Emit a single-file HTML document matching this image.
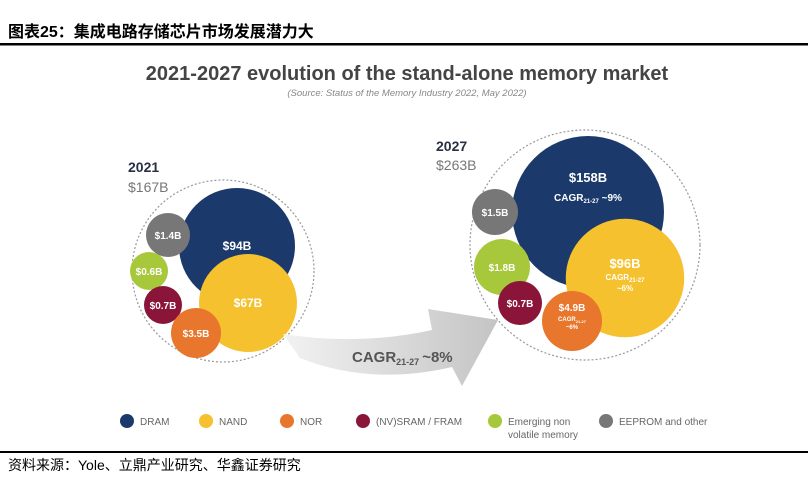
<!DOCTYPE html>
<html><head><meta charset="utf-8">
<style>
html,body{margin:0;padding:0;background:#fff;width:808px;height:490px;overflow:hidden;font-family:"Liberation Sans","Noto Sans CJK SC",sans-serif}
svg{display:block}
</style></head><body>
<svg id="chart" width="808" height="490" viewBox="0 0 808 490" xmlns="http://www.w3.org/2000/svg">
<defs>
<linearGradient id="ag" x1="0" x2="1" y1="0" y2="0"><stop offset="0" stop-color="#f2f2f2"/><stop offset="1" stop-color="#c4c4c4"/></linearGradient>
</defs>
<text x="8" y="37" font-size="16" font-weight="bold" fill="#000" font-family="'Liberation Sans','Noto Sans CJK SC',sans-serif">图表25：集成电路存储芯片市场发展潜力大</text>
<rect x="0" y="43" width="808" height="2.5" fill="#000"/>
<text x="407" y="80" text-anchor="middle" font-size="20" font-weight="bold" fill="#444">2021-2027 evolution of the stand-alone memory market</text>
<text x="407" y="96" text-anchor="middle" font-size="9.5" font-style="italic" fill="#888">(Source: Status of the Memory Industry 2022, May 2022)</text>
<g id="bubbles"></g>
<path d="M283,334 Q360,346 432,330 L428,309 L498,320 L462,386 L452,367 Q370,386 300,358 Z" fill="url(#ag)"/>
<text x="352" y="362" font-size="15" font-weight="bold" fill="#555">CAGR<tspan font-size="9" dy="3">21-27</tspan><tspan dy="-3" dx="3">~8%</tspan></text>
<g id="legend"></g>
<rect x="0" y="451" width="808" height="2" fill="#000"/>
<text x="8" y="470" font-size="14" fill="#000" font-family="'Liberation Sans','Noto Sans CJK SC',sans-serif">资料来源：Yole、立鼎产业研究、华鑫证券研究</text>
</svg>
<script>
const categories = ["DRAM","NAND","NOR","(NV)SRAM / FRAM","Emerging non volatile memory","EEPROM and other"];
const colors = ["#1b3a6b","#f5c12e","#e8762d","#8a1538","#a8c83c","#777777"];
const values2021 = [94,67,3.5,0.7,0.6,1.4];
const values2027 = [158,96,4.9,0.7,1.8,1.5];
const labels2021 = ["$94B","$67B","$3.5B","$0.7B","$0.6B","$1.4B"];
const labels2027 = ["$158B","$96B","$4.9B","$0.7B","$1.8B","$1.5B"];
const cagr2027 = ["~9%","~6%","~6%","","",""];
const totals = [167,263];
const totalLabels = ["$167B","$263B"];
const years = ["2021","2027"];

const NS="http://www.w3.org/2000/svg";
function mk(tag,attrs,parent){const e=document.createElementNS(NS,tag);for(const k in attrs)e.setAttribute(k,attrs[k]);parent.appendChild(e);return e;}
const groups=[
 {cx:223,cy:271,R:91,ty:[172,192],tx:128,
  pos:[[237,246],[248,303],[196,333],[163,305],[149,271],[168,235]]},
 {cx:585,cy:245,R:115,ty:[151,170],tx:436,
  pos:[[588,212],[625,278],[572,321],[520,303],[502,267],[495,212]]}
];
function rScale(v,g){const big=g===0?58:76;const ref=g===0?94:158;return Math.max(Math.sqrt(v/ref)*big, g===0?(v<1?19:22):(v<1?22:23));}
function sizeFix(v,g,i){
 const r=rScale(v,g);
 if(i===2) return g===0?25:30;
 if(i===4&&g===1) return 28;
 return r;}
const bub=document.getElementById('bubbles');
[values2021,values2027].forEach((vals,g)=>{
 const G=groups[g];
 const outer=mk('circle',{cx:G.cx,cy:G.cy,r:G.R,fill:'none',stroke:'#999','stroke-width':1.2,'stroke-dasharray':'2 2'},bub);
 
 
 const yt=mk('text',{x:G.tx,y:G.ty[0],'font-size':14,'font-weight':'bold',fill:'#2a2f45'},bub);yt.textContent=years[g];
 
 
 const tt=mk('text',{x:G.tx,y:G.ty[1],'font-size':14,fill:'#777'},bub);tt.textContent=totalLabels[g];
 
 
 const order=[0,1,5,4,3,2];
 order.forEach(i=>{
  const [x,y]=G.pos[i];const r=sizeFix(vals[i],g,i);
  const c=mk('circle',{cx:x,cy:y,r:r,fill:colors[i]},bub);
  
  
  const lab=g===0?labels2021[i]:labels2027[i];
  const big=i<2;const fs=big?(g===1?13:12):10;
  const hasC=g===1&&cagr2027[i];
  let ly=y+4;
  if(hasC) ly=y-(i===0?30:10);
  const t=mk('text',{x:x,y:ly,'text-anchor':'middle','font-size':fs,'font-weight':'bold',fill:'#fff'},bub);t.textContent=lab;
  
  
  if(hasC){
   const cs=i===2?6:(i===0?10:8);
   if(i===0){
    const c2=mk('text',{x:x,y:ly+19,'text-anchor':'middle','font-size':cs,'font-weight':'bold',fill:'#fff'},bub);
    c2.innerHTML='CAGR<tspan font-size="6" dy="2">21-27</tspan><tspan dy="-2"> '+cagr2027[i]+'</tspan>';
    
    
   } else {
    const c2=mk('text',{x:x,y:ly+(i===2?10:12),'text-anchor':'middle','font-size':cs,'font-weight':'bold',fill:'#fff'},bub);
    c2.innerHTML='CAGR<tspan font-size="'+(cs-2)+'" dy="2">21-27</tspan>';
    
    
    const c3=mk('text',{x:x,y:ly+(i===2?18:23),'text-anchor':'middle','font-size':cs,'font-weight':'bold',fill:'#fff'},bub);
    c3.textContent=cagr2027[i];
    
    
   }
  }
 });
});
const leg=document.getElementById('legend');
const lx=[127,206,287,363,495,606];
categories.forEach((cat,i)=>{
 const d=mk('circle',{cx:lx[i],cy:421,r:7,fill:colors[i]},leg);
 
 
 const t=mk('text',{x:lx[i]+13,y:425,'font-size':10,fill:'#666'},leg);
 if(i===4){t.innerHTML='Emerging non<tspan x="'+(lx[i]+13)+'" dy="13">volatile memory</tspan>';}
 else t.textContent=i===5?'EEPROM and other':cat;
 
 
});
</script>
</body></html>
